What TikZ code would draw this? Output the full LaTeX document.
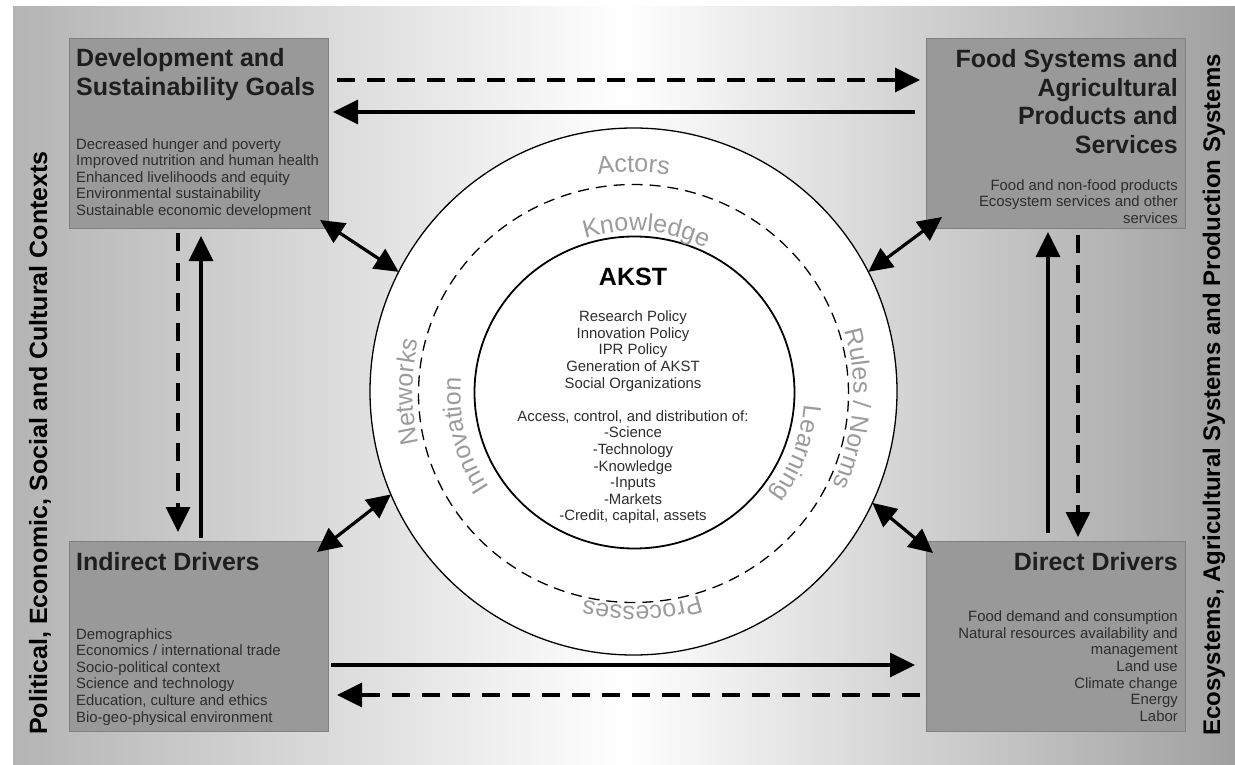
\documentclass[tikz,border=0pt]{standalone}
\usepackage{fontspec}
\setmainfont{Liberation Sans}
\usetikzlibrary{arrows.meta,shapes.geometric,decorations.text,calc}
\definecolor{boxfill}{RGB}{153,153,153}
\definecolor{boxline}{RGB}{128,128,128}
\definecolor{ringtxt}{RGB}{155,155,155}
\definecolor{bgL}{RGB}{180,180,180}
\definecolor{bgR}{RGB}{160,160,160}
\definecolor{titletxt}{RGB}{30,30,30}
\definecolor{bodytxt}{RGB}{45,45,45}
\newcommand{\rngfnt}{\fontsize{25}{25}\selectfont\color{ringtxt}}
\begin{document}
\begin{tikzpicture}[x=1pt,y=1pt,
  box/.style={draw=boxline, line width=0.8pt, fill=boxfill, inner sep=0pt, outer sep=0pt,
    minimum width=259pt, minimum height=190pt, anchor=north west},
  titletext/.style={font=\fontsize{25}{29}\selectfont\bfseries, text=titletxt, inner sep=0pt},
  bodytext/.style={font=\fontsize{14.9}{16.6}\selectfont, text=bodytxt, inner sep=0pt},
  conn/.style={line width=3.5pt, -{Triangle[length=25pt,width=24pt]}},
  dconn/.style={conn, dash pattern=on 18pt off 12pt},
  both/.style={line width=3.2pt, {Triangle[length=24pt,width=23pt]}-{Triangle[length=24pt,width=23pt]}},
  sidetext/.style={font=\fontsize{25}{25}\selectfont\bfseries, text=black, rotate=90, anchor=base, inner sep=0pt},
  ringlabel/.style={decorate, decoration={text along path, text align=center, text={|\rngfnt|#1}}},
]
\useasboundingbox (0,0) rectangle (1235,-765);
% background
\shade[left color=bgL, right color=bgR, middle color=white, shading=axis] (13,-7) rectangle (1235,-765);

% side labels
\node[sidetext] (leftctx) at (47,-443) {Political, Economic, Social and Cultural Contexts};
\node[sidetext, font=\fontsize{24}{24}\selectfont\bfseries] (rightctx) at (1220,-395) {Ecosystems, Agricultural Systems and Production Systems};

% boxes
\node[box] (dsg) at (69,-38) {};
\node[box] (fs) at (926,-38) {};
\node[box] (ind) at (69,-541) {};
\node[box] (dd) at (926,-541) {};

% box texts (base anchor = baseline of the last line)
\node[titletext, align=left, anchor=base west] (dsgt) at (76,-96) {Development and\\Sustainability Goals};
\node[bodytext, align=left, anchor=base west] (dsgb) at (76,-215.4) {Decreased hunger and poverty\\Improved nutrition and human health\\Enhanced livelihoods and equity\\Environmental sustainability\\Sustainable economic development};

\node[titletext, align=right, anchor=base east] (fst) at (1178,-154) {Food Systems and\\Agricultural\\Products and\\Services};
\node[bodytext, align=right, anchor=base east] (fsb) at (1178,-223.2) {Food and non-food products\\Ecosystem services and other\\services};

\node[titletext, align=left, anchor=base west] (indt) at (76,-570) {Indirect Drivers};
\node[bodytext, align=left, anchor=base west] (indb) at (76,-722) {Demographics\\Economics / international trade\\Socio-political context\\Science and technology\\Education, culture and ethics\\Bio-geo-physical environment};

\node[titletext, align=right, anchor=base east] (ddt) at (1178,-570) {Direct Drivers};
\node[bodytext, align=right, anchor=base east] (ddb) at (1178,-721.3) {Food demand and consumption\\Natural resources availability and\\management\\Land use\\Climate change\\Energy\\Labor};

% circles
\node[circle, draw, line width=1.3pt, fill=white, minimum size=527pt, inner sep=0pt, outer sep=0pt] (outer) at (633.5,-391.5) {};
\node[ellipse, draw, line width=1.3pt, dash pattern=on 11pt off 7pt, minimum width=430pt, minimum height=418pt, inner sep=0pt] (dashring) at (633.5,-393.5) {};
\node[ellipse, draw, line width=1.8pt, minimum width=320pt, minimum height=312pt, inner sep=0pt] (inner) at (634.5,-392.5) {};

% ring labels
\begin{scope}[shift={(633.5,-392)}]
\path[ringlabel={Actors}] (120:220) arc[start angle=120, end angle=60, radius=220];
\path[ringlabel={Knowledge}] (125.5:161) arc[start angle=125.5, end angle=45.5, radius=161];
\path[ringlabel={Networks}] (215:221) arc[start angle=215, end angle=145, radius=221];
\path[ringlabel={Innovation}] (229.4:173) arc[start angle=229.4, end angle=159.4, radius=173];
\path[ringlabel={Rules / Norms}] (35.6:220) arc[start angle=35.6, end angle=-44.4, radius=220];
\path[ringlabel={Learning}] (14.5:171) arc[start angle=14.5, end angle=-55.5, radius=171];
\path[ringlabel={Processes}] (-52.7:214) arc[start angle=-52.7, end angle=-122.7, radius=214];
\end{scope}

% center text
\node[font=\fontsize{25}{25}\selectfont\bfseries, anchor=base, inner sep=0pt] (akst) at (633,-285) {AKST};
\node[bodytext, align=center, anchor=base] (akstb) at (633,-520.9) {Research Policy\\Innovation Policy\\IPR Policy\\Generation of AKST\\Social Organizations\\[16.6pt]Access, control, and distribution of:\\-Science\\-Technology\\-Knowledge\\-Inputs\\-Markets\\-Credit, capital, assets};

% horizontal connectors
\draw[dconn, shorten <=9pt, shorten >=6pt] (dsg.east |- 0,-80) -- (fs.west |- 0,-80);
\draw[conn, shorten <=11pt, shorten >=5pt] (fs.west |- 0,-112) -- (dsg.east |- 0,-112);
\draw[conn, shorten <=3pt, shorten >=11pt] (ind.east |- 0,-665) -- (dd.west |- 0,-665);
\draw[dconn, shorten <=6pt, shorten >=9pt] (dd.west |- 0,-695) -- (ind.east |- 0,-695);
% vertical connectors
\draw[dconn, shorten <=5pt, shorten >=9pt] (178,0 |- dsg.south) -- (178,0 |- ind.north);
\draw[conn, shorten <=3pt, shorten >=8pt] (201,0 |- ind.north) -- (201,0 |- dsg.south);
\draw[conn, shorten <=8pt, shorten >=4pt] (1048,0 |- dd.north) -- (1048,0 |- fs.south);
\draw[dconn, shorten <=7pt, shorten >=4pt] (1078,0 |- fs.south) -- (1078,0 |- dd.north);
% diagonal double arrows
\draw[both] (outer.153.5) -- ($(dsg.south east)+(-8,8)$);
\draw[both] (outer.203.8) -- ($(ind.north east)+(-11,-11)$);
\draw[both] (outer.27.6) -- ($(fs.south west)+(16,11)$);
\draw[both] (outer.-25.7) -- ($(dd.north west)+(7,-12)$);
\end{tikzpicture}
\end{document}
